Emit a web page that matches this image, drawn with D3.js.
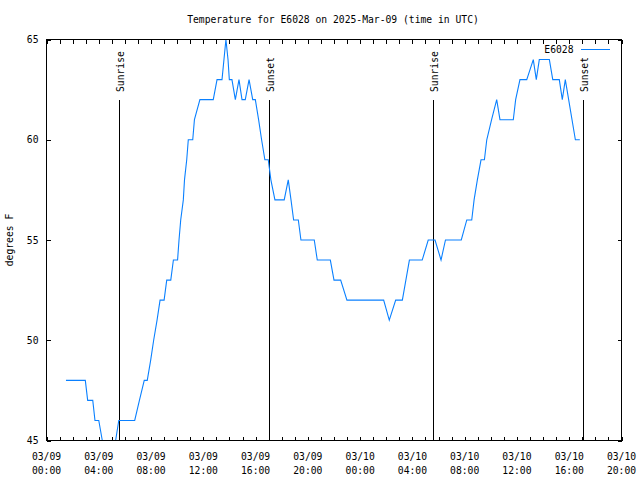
<!DOCTYPE html>
<html><head><meta charset="utf-8">
<script src="https://cdn.jsdelivr.net/npm/d3@7"></script>
<style>
body{margin:0;background:#fff}
text{font-family:"DejaVu Sans Mono",monospace;font-size:9.7px;fill:#000}
</style>
</head><body><svg id="c" width="640" height="480"></svg>
<script>
const titleText = "Temperature for E6028 on 2025-Mar-09 (time in UTC)";
const yLabelText = "degrees F";
const seriesName = "E6028";
const startDate = "2025-03-09T00:00:00Z";
const xSpanHours = 44;
// vertices of the temperature trace: hours since 2025-03-09 00:00 UTC, deg F
const hours = [1.49,2.97,3.15,3.54,3.71,4.00,4.27,4.54,4.83,5.07,5.29,5.53,6.75,7.11,7.48,7.71,7.97,8.20,8.46,8.69,
  9.00,9.20,9.51,9.71,10.03,10.14,10.27,10.47,10.56,10.73,10.85,11.19,11.32,11.74,12.76,13.05,13.43,13.58,13.73,13.89,
  13.99,14.19,14.45,14.73,14.96,15.21,15.50,15.78,15.98,16.23,16.46,16.71,16.97,17.17,17.48,18.19,18.50,18.71,18.91,19.27,
  19.47,20.49,20.72,21.72,22.00,22.51,22.99,25.80,26.23,26.72,27.23,27.50,27.77,28.75,29.21,29.73,30.19,30.53,31.74,32.16,
  32.54,32.72,32.97,33.25,33.51,33.69,34.06,34.45,34.70,35.72,35.90,36.23,36.75,37.25,37.48,37.71,38.48,38.74,39.24,39.47,
  39.70,40.47,40.81];
const tempF = [48,48,47,47,46,46,45,44,43,44,45,46,46,47,48,48,49,50,51,52,
  52,53,53,54,54,55,56,57,58,59,60,60,61,62,62,63,63,64,65,64,
  63,63,62,63,62,62,63,62,62,61,60,59,59,58,57,57,58,57,56,56,
  55,55,54,54,53,53,52,52,51,52,52,53,54,54,55,55,54,55,55,56,
  56,57,58,59,59,60,61,62,61,61,62,63,63,64,63,64,64,63,63,62,
  63,60,60];
const sunNames = ["Sunrise","Sunset","Sunrise","Sunset"];
const sunHours = [5.57,17.05,29.60,41.08];
const yTicks = [45,50,55,60,65];
const yDomain = [45,65];

const svg = d3.select("#c");
const L=46.5, R=621.5, T=39.5, B=440.5;
const t0 = new Date(startDate);
const hd = h => new Date(t0.getTime() + h*3600e3);
const x = d3.scaleUtc().domain([t0, hd(xSpanHours)]).range([L, R]);
const y = d3.scaleLinear().domain(yDomain).range([B, T]);

// title
svg.append("text").attr("x",333).attr("y",20).attr("dy","0.35em").attr("text-anchor","middle").text(titleText);
// y label
svg.append("text").attr("transform","translate(10,240) rotate(-90)").attr("dy","0.35em").attr("text-anchor","middle").text(yLabelText);

// axes with inward ticks
const hourTicks = d3.utcHour.every(1);
const gB = svg.append("g").attr("transform",`translate(0,${B})`)
  .call(d3.axisBottom(x).ticks(hourTicks).tickSize(-4).tickFormat(""));
const gT = svg.append("g").attr("transform",`translate(0,${T})`)
  .call(d3.axisTop(x).ticks(hourTicks).tickSize(-4).tickFormat(""));
const gL = svg.append("g").attr("transform",`translate(${L},0)`)
  .call(d3.axisLeft(y).tickValues(yTicks).tickSize(-4).tickPadding(8).tickFormat(d3.format("d")));
const gR = svg.append("g").attr("transform",`translate(${R},0)`)
  .call(d3.axisRight(y).tickValues(yTicks).tickSize(-4).tickFormat(""));
[gB,gT,gL,gR].forEach(g=>{
  g.select(".domain").remove();
  g.selectAll("line").attr("stroke","#000").attr("shape-rendering","crispEdges");
  g.selectAll("text").attr("font-family",null).attr("font-size",null).style("fill","#000");
  g.attr("font-family",null).attr("font-size",null);
});

// x tick labels (two lines)
const labelTicks = x.ticks(d3.utcHour.every(4));
const fmtD = d3.utcFormat("%m/%d"), fmtH = d3.utcFormat("%H:%M");
const xl = svg.append("g");
labelTicks.forEach(t=>{
  xl.append("text").attr("x",x(t)).attr("y",456.5).attr("dy","0.35em").attr("text-anchor","middle").text(fmtD(t));
  xl.append("text").attr("x",x(t)).attr("y",471).attr("dy","0.35em").attr("text-anchor","middle").text(fmtH(t));
});

// sunrise / sunset markers
sunHours.forEach((h,i)=>{
  const xs = Math.round(x(hd(h))-0.5)+0.5;
  svg.append("line").attr("x1",xs).attr("x2",xs).attr("y1",100).attr("y2",B)
    .attr("stroke","#000").attr("shape-rendering","crispEdges");
  svg.append("text").attr("transform",`translate(${xs+1},92) rotate(-90)`).attr("dy","0.35em")
    .attr("text-anchor","start").text(sunNames[i]);
});

// data line
svg.append("clipPath").attr("id","clip").append("rect").attr("x",L).attr("y",T).attr("width",R-L).attr("height",B-T);
const pts = hours.map((h,i)=>({t:hd(h), v:tempF[i]}));
svg.append("path").datum(pts).attr("clip-path","url(#clip)")
  .attr("fill","none").attr("stroke","#0a80ff").attr("stroke-width",1.1)
  .attr("d", d3.line().x(d=>x(d.t)).y(d=>y(d.v)));

// border
svg.append("rect").attr("x",L).attr("y",T).attr("width",R-L).attr("height",B-T)
  .attr("fill","none").attr("stroke","#000").attr("shape-rendering","crispEdges");

// legend
svg.append("text").attr("x",573.5).attr("y",50).attr("dy","0.35em").attr("text-anchor","end").text(seriesName);
svg.append("line").attr("x1",581).attr("x2",610).attr("y1",49.5).attr("y2",49.5).attr("stroke","#0a80ff");
</script></body></html>
